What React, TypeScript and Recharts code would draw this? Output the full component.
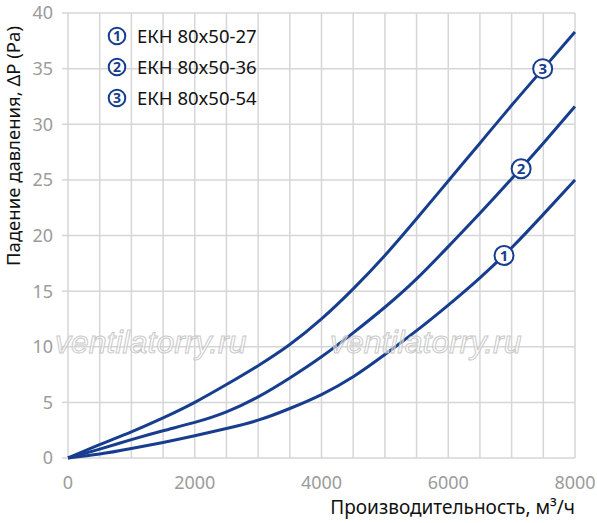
import React from 'react';
import { LineChart, Line, XAxis, YAxis, CartesianGrid, Legend, ReferenceDot } from 'recharts';

// flow, m3/h
const airflow = [0, 500, 1000, 1500, 2000, 2500, 3000, 3500, 4000, 4500, 5000, 5500, 6000, 6500, 7000, 7500, 8000];

// pressure drop, Pa
const ekh27 = [0, 0.35, 0.85, 1.4, 2.0, 2.65, 3.4, 4.45, 5.7, 7.3, 9.3, 11.45, 13.75, 16.2, 18.9, 21.9, 25.0];
const ekh36 = [0, 0.8, 1.65, 2.45, 3.2, 4.15, 5.5, 7.2, 9.1, 11.25, 13.55, 16.1, 19.0, 22.0, 25.1, 28.3, 31.6];
const ekh54 = [0, 1.2, 2.35, 3.6, 5.0, 6.6, 8.3, 10.2, 12.5, 15.2, 18.2, 21.5, 24.9, 28.3, 31.7, 35.0, 38.3];

const seriesNames = ['ЕКН 80x50-27', 'ЕКН 80x50-36', 'ЕКН 80x50-54'];
const seriesKeys = ['ekh27', 'ekh36', 'ekh54'];

// where the circled numbers sit on each curve
const markerX = [6880, 7150, 7490];
const markerY = [18.2, 26.0, 35.0];

const yTicks = [0, 5, 10, 15, 20, 25, 30, 35, 40];
const xTickLabels = [0, 2000, 4000, 6000, 8000];

const BLUE = '#173e8e';
const GRID = '#d6d6d6';
const FONT = '"Noto Sans", sans-serif';

const data = airflow.map((q, i) => ({
  q,
  ekh27: ekh27[i],
  ekh36: ekh36[i],
  ekh54: ekh54[i],
}));

const CircleNum = (props: any) => {
  const { cx, cy, n } = props;
  return (
    <g>
      <circle cx={cx} cy={cy} r={9.5} fill="#fff" stroke={BLUE} strokeWidth={2} />
      <text x={cx} y={cy + 5.5} textAnchor="middle" fontSize={15} fontWeight={700} fill={BLUE} fontFamily={FONT}>
        {n}
      </text>
    </g>
  );
};

const renderLegend = () => (
  <div style={{ fontFamily: FONT }}>
    {seriesNames.map((name, i) => (
      <div key={name} style={{ display: 'flex', alignItems: 'center', height: 31 }}>
        <svg width={20} height={20}>
          <circle cx={10} cy={10} r={8.3} fill="#fff" stroke={BLUE} strokeWidth={2} />
          <text x={10} y={15} textAnchor="middle" fontSize={14} fontWeight={700} fill={BLUE}>{i + 1}</text>
        </svg>
        <span style={{ marginLeft: 10, fontSize: 18.5, color: '#111' }}>{name}</span>
      </div>
    ))}
  </div>
);

const YTitle = () => (
  <text x={20} y={146} transform="rotate(-90 20 146)" textAnchor="middle" fontSize={18.5} fill="#111" fontFamily={FONT}>
    Падение давления, ΔP (Pa)
  </text>
);

const XTitle = () => (
  <text x={575} y={514} textAnchor="end" fontSize={19} fill="#111" fontFamily={FONT}>
    Производительность, м³/ч
  </text>
);

const App: React.FC = () => {
  return (
    <div style={{ position: 'absolute', left: 0, top: 0, width: 597, height: 523, background: '#fff' }}>
      <LineChart width={597} height={523} data={data} margin={{ top: 13, right: 22, left: 0, bottom: 0 }}>
        <CartesianGrid stroke={GRID} strokeWidth={1.5} />
        <XAxis
          dataKey="q"
          type="number"
          domain={[0, 8000]}
          ticks={airflow}
          tickFormatter={(v: number) => (xTickLabels.includes(v) ? String(v) : '')}
          tickLine={false}
          axisLine={false}
          tickSize={6}
          tickMargin={12}
          height={65}
          tick={{ fill: '#9b9b9b', fontSize: 18, fontFamily: FONT }}
          label={<XTitle />}
        />
        <YAxis
          type="number"
          domain={[0, 40]}
          ticks={yTicks}
          width={68}
          axisLine={false}
          tickLine={{ stroke: GRID, strokeWidth: 1.5 }}
          tickSize={6}
          tickMargin={9}
          tick={{ fill: '#9b9b9b', fontSize: 18, fontFamily: FONT }}
          label={<YTitle />}
        />
        <Legend
          layout="vertical"
          align="center"
          verticalAlign="middle"
          content={renderLegend}
          wrapperStyle={{ top: 20, left: 107, width: 'auto' }}
        />
        {seriesKeys.map((k, i) => (
          <Line
            key={k}
            type="natural"
            dataKey={k}
            name={seriesNames[i]}
            stroke={BLUE}
            strokeWidth={3}
            dot={false}
            isAnimationActive={false}
          />
        ))}
        {markerX.map((x, i) => (
          <ReferenceDot
            key={'m' + i}
            x={x}
            y={markerY[i]}
            r={9}
            shape={(p: any) => <CircleNum {...p} n={i + 1} />}
          />
        ))}
      </LineChart>
      <svg width={597} height={523} style={{ position: 'absolute', left: 0, top: 0, pointerEvents: 'none' }}>
        {[55, 330].map((x) => (
          <text
            key={x}
            x={x}
            y={353}
            fontSize={32}
            fontStyle="italic"
            fontFamily='"Liberation Sans", Arial, sans-serif'
            fill="rgba(255,255,255,0.45)"
            stroke="#c9c9c9"
            strokeWidth={1}
          >
            ventilatorry.ru
          </text>
        ))}
      </svg>
    </div>
  );
};

export default App;
